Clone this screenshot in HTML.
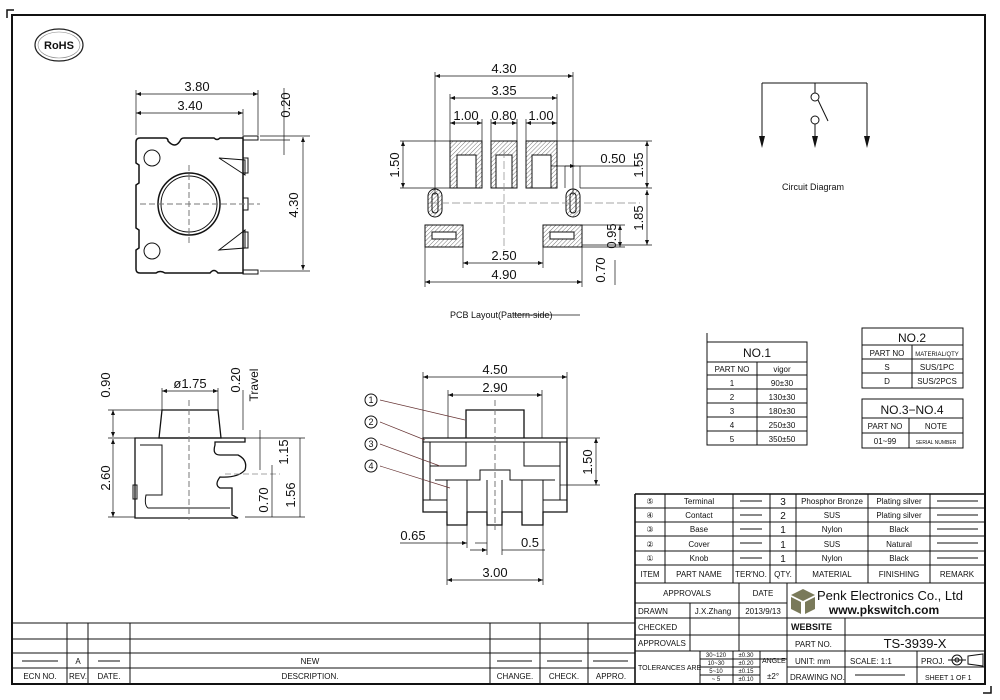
<!DOCTYPE html>
<html><head><meta charset="utf-8"><style>
html,body{margin:0;padding:0;background:#fff;}
svg{display:block;}
text{font-family:"Liberation Sans",sans-serif;fill:#111;}
</style></head><body>
<svg width="1000" height="700" viewBox="0 0 1000 700" xmlns="http://www.w3.org/2000/svg">
<defs>
<marker id="a" viewBox="0 0 10 10" refX="10" refY="5" markerWidth="7" markerHeight="5" orient="auto-start-reverse" markerUnits="userSpaceOnUse"><path d="M0,1 L10,5 L0,9 z" fill="#111"/></marker>
<pattern id="h" width="3" height="3" patternUnits="userSpaceOnUse" patternTransform="rotate(45)"><line x1="0" y1="0" x2="0" y2="3" stroke="#777" stroke-width="1"/></pattern>
</defs>
<rect width="1000" height="700" fill="#fff"/>
<!-- frame -->
<rect x="12" y="15" width="973" height="669" fill="none" stroke="#111" stroke-width="2"/>
<path d="M7,18 V10 H14" fill="none" stroke="#111" stroke-width="1.5"/>
<path d="M983,693 H991 V686" fill="none" stroke="#111" stroke-width="1.5"/>
<!-- RoHS -->
<ellipse cx="59" cy="45" rx="24" ry="16" fill="none" stroke="#222" stroke-width="1.2"/>
<ellipse cx="59" cy="45" rx="21" ry="13" fill="none" stroke="#888" stroke-width="0.6"/>
<text x="59" y="49" font-size="11" font-weight="bold" text-anchor="middle">RoHS</text>

<g fill="none" stroke="#111" stroke-width="1">
<!-- View 1 -->
<path d="M140,138 H165 Q168,138 168,141 Q175,149 180,141 Q181,138 184,138 H214 Q217,141 220,138 H243 V273 H218 Q214,268 210,273 H165 Q160,270 156,273 H140 Q136,273 136,269 V250 L139,248 V230 L136,228 V185 L139,183 V165 L136,163 V142 Q136,138 140,138 Z" stroke-width="1.5"/>
<circle cx="189" cy="204" r="31" stroke-width="1.5"/>
<circle cx="189" cy="204" r="28"/>
<circle cx="152" cy="158" r="8"/><circle cx="152" cy="251" r="8"/>
<path d="M219,158 L245,160 V175 Z M219,250 L245,230 V248 Z"/>
<rect x="243" y="158" width="5" height="15"/><rect x="243" y="198" width="5" height="12"/><rect x="243" y="232" width="5" height="16"/>
<rect x="243" y="136" width="15" height="4"/><rect x="243" y="270" width="15" height="4"/>
<line x1="189" y1="165" x2="189" y2="245" stroke-dasharray="6,3" stroke="#777"/>
<line x1="140" y1="204" x2="260" y2="204" stroke-dasharray="6,3" stroke="#777"/>
<line x1="136" y1="90" x2="136" y2="135" stroke-width="0.7"/><line x1="258" y1="90" x2="258" y2="135" stroke-width="0.7"/><line x1="243" y1="109" x2="243" y2="135" stroke-width="0.7"/>
<line x1="136" y1="94" x2="258" y2="94" marker-start="url(#a)" marker-end="url(#a)" stroke-width="0.7"/>
<line x1="136" y1="113" x2="243" y2="113" marker-start="url(#a)" marker-end="url(#a)" stroke-width="0.7"/>
<line x1="260" y1="136" x2="310" y2="136" stroke-width="0.7"/><line x1="260" y1="140" x2="290" y2="140" stroke-width="0.7"/><line x1="260" y1="271" x2="310" y2="271" stroke-width="0.7"/>
<line x1="284" y1="88" x2="284" y2="155" stroke-width="0.7"/>
<line x1="303" y1="137" x2="303" y2="270" marker-start="url(#a)" marker-end="url(#a)" stroke-width="0.7"/>

<!-- View 2 PCB -->
<rect x="450" y="141" width="32" height="47" fill="url(#h)"/><rect x="457" y="155" width="19" height="33" fill="#fff"/>
<rect x="491" y="141" width="26" height="47" fill="url(#h)"/><rect x="496" y="155" width="16" height="33" fill="#fff"/>
<rect x="526" y="141" width="31" height="47" fill="url(#h)"/><rect x="532" y="155" width="19" height="33" fill="#fff"/>
<rect x="428" y="189" width="14" height="28" rx="7" fill="url(#h)"/><rect x="432" y="193" width="6" height="20" rx="3"/>
<rect x="566" y="189" width="14" height="28" rx="7" fill="url(#h)"/><rect x="570" y="193" width="6" height="20" rx="3"/>
<rect x="425" y="225" width="38" height="22" fill="url(#h)"/><rect x="432" y="232" width="24" height="7" fill="#fff"/>
<rect x="543" y="225" width="39" height="22" fill="url(#h)"/><rect x="550" y="232" width="24" height="7" fill="#fff"/>
<line x1="430" y1="203" x2="640" y2="203" stroke-dasharray="8,3" stroke="#888" stroke-width="0.7"/>
<line x1="504" y1="150" x2="504" y2="250" stroke-dasharray="8,3" stroke="#888" stroke-width="0.7"/>
<g stroke-width="0.7">
<line x1="435" y1="72" x2="435" y2="195"/><line x1="573" y1="72" x2="573" y2="195"/>
<line x1="435" y1="76" x2="573" y2="76" marker-start="url(#a)" marker-end="url(#a)"/>
<line x1="450" y1="94" x2="450" y2="141"/><line x1="557" y1="94" x2="557" y2="141"/>
<line x1="450" y1="98" x2="557" y2="98" marker-start="url(#a)" marker-end="url(#a)"/>
<line x1="482" y1="119" x2="482" y2="141"/><line x1="491" y1="119" x2="491" y2="141"/><line x1="517" y1="119" x2="517" y2="141"/><line x1="526" y1="119" x2="526" y2="141"/>
<line x1="450" y1="123" x2="482" y2="123" marker-start="url(#a)" marker-end="url(#a)"/>
<line x1="491" y1="123" x2="517" y2="123" marker-start="url(#a)" marker-end="url(#a)"/>
<line x1="526" y1="123" x2="557" y2="123" marker-start="url(#a)" marker-end="url(#a)"/>
<line x1="400" y1="141" x2="450" y2="141"/><line x1="400" y1="188" x2="450" y2="188"/>
<line x1="403" y1="141" x2="403" y2="188" marker-start="url(#a)" marker-end="url(#a)"/>
<line x1="557" y1="141" x2="652" y2="141"/><line x1="580" y1="188" x2="652" y2="188"/><line x1="582" y1="245" x2="652" y2="245"/>
<line x1="647" y1="141" x2="647" y2="188" marker-start="url(#a)" marker-end="url(#a)"/>
<line x1="647" y1="190" x2="647" y2="245" marker-start="url(#a)" marker-end="url(#a)"/>
<line x1="582" y1="225" x2="625" y2="225"/><line x1="582" y1="247" x2="625" y2="247"/>
<line x1="620" y1="225" x2="620" y2="247" marker-start="url(#a)" marker-end="url(#a)"/>
<line x1="615" y1="260" x2="615" y2="285"/>
<line x1="551" y1="166" x2="640" y2="166"/><line x1="565" y1="166" x2="575" y2="166" marker-end="url(#a)"/>
<line x1="565" y1="166" x2="565" y2="188"/><line x1="580" y1="166" x2="580" y2="188"/>
<line x1="463" y1="247" x2="463" y2="268"/><line x1="543" y1="247" x2="543" y2="268"/>
<line x1="463" y1="263" x2="543" y2="263" marker-start="url(#a)" marker-end="url(#a)"/>
<line x1="425" y1="247" x2="425" y2="287"/><line x1="582" y1="247" x2="582" y2="287"/>
<line x1="425" y1="282" x2="582" y2="282" marker-start="url(#a)" marker-end="url(#a)"/>
</g>

<!-- Circuit -->
<path d="M762,83 H867 M762,83 V140 M867,83 V140 M815,83 V93 M815,124 V140 M818,100 L828,121"/>
<circle cx="815" cy="97" r="4"/><circle cx="815" cy="120" r="4"/>
</g>
<path d="M759,136 L765,136 L762,148 Z M812,136 L818,136 L815,148 Z M864,136 L870,136 L867,148 Z" fill="#111"/>

<g fill="none" stroke="#111" stroke-width="1">
<!-- View 3 side -->
<path d="M162,410 H218 L221,438 H159 Z" stroke-width="1.3"/>
<path d="M135,438 H245 V442 H215 V445 Q212,455 220,455 H238 Q248,460 245,470 Q238,478 220,477 Q214,485 220,488 H232 V515 L238,518 H135 Z" stroke-width="1.3"/>
<path d="M140,445 H162 V495 H146 Q144,505 148,508 H230"/>
<rect x="133" y="485" width="4" height="14"/>
<line x1="189" y1="400" x2="189" y2="520" stroke-dasharray="6,3" stroke="#777"/>
<line x1="225" y1="474" x2="280" y2="474" stroke-dasharray="6,3" stroke="#888" stroke-width="0.7"/>
<g stroke-width="0.7">
<line x1="162" y1="388" x2="162" y2="410"/><line x1="218" y1="388" x2="218" y2="410"/>
<line x1="162" y1="391" x2="218" y2="391" marker-start="url(#a)" marker-end="url(#a)"/>
<line x1="108" y1="410" x2="162" y2="410"/><line x1="108" y1="438" x2="135" y2="438"/><line x1="108" y1="517" x2="135" y2="517"/>
<line x1="113" y1="410" x2="113" y2="437" marker-start="url(#a)" marker-end="url(#a)"/>
<line x1="113" y1="439" x2="113" y2="517" marker-start="url(#a)" marker-end="url(#a)"/>
<line x1="243" y1="390" x2="243" y2="430"/>
<line x1="245" y1="438" x2="305" y2="438"/><line x1="245" y1="517" x2="305" y2="517"/>
<line x1="300" y1="438" x2="300" y2="517"/>
<line x1="272" y1="465" x2="272" y2="517"/><line x1="260" y1="430" x2="260" y2="470"/>
</g>

<!-- View 4 front -->
<path d="M466,438 V410 H524 V438" stroke-width="1.3"/>
<path d="M423,438 H567 V512 H543 V525 H522 V512 H502 V525 H487 V512 H467 V525 H447 V512 H423 Z" stroke-width="1.3"/>
<path d="M423,442 H567 M430,442 V500 M560,442 V500 M430,466 H466 V442 M524,442 V466 H560 M435,480 H480 V470 H510 V480 H555 M447,480 V512 M467,480 V512 M487,480 V512 M502,480 V512 M522,480 V512 M543,480 V512 M423,500 H447 M543,500 H567"/>
<line x1="495" y1="400" x2="495" y2="530" stroke-dasharray="6,3" stroke="#777"/>
<g stroke-width="0.7">
<line x1="423" y1="372" x2="423" y2="438"/><line x1="567" y1="372" x2="567" y2="438"/>
<line x1="423" y1="377" x2="567" y2="377" marker-start="url(#a)" marker-end="url(#a)"/>
<line x1="448" y1="390" x2="448" y2="438"/><line x1="542" y1="390" x2="542" y2="438"/>
<line x1="448" y1="395" x2="542" y2="395" marker-start="url(#a)" marker-end="url(#a)"/>
<line x1="567" y1="438" x2="600" y2="438"/><line x1="560" y1="485" x2="600" y2="485"/>
<line x1="596" y1="438" x2="596" y2="485" marker-start="url(#a)" marker-end="url(#a)"/>
<line x1="447" y1="525" x2="447" y2="585"/><line x1="543" y1="525" x2="543" y2="585"/>
<line x1="447" y1="580" x2="543" y2="580" marker-start="url(#a)" marker-end="url(#a)"/>
<line x1="467" y1="525" x2="467" y2="548"/><line x1="487" y1="525" x2="487" y2="555"/><line x1="502" y1="525" x2="502" y2="555"/>
<line x1="400" y1="543" x2="467" y2="543" marker-end="url(#a)"/><line x1="487" y1="543" x2="475" y2="543"/>
<line x1="470" y1="550" x2="487" y2="550" marker-end="url(#a)"/><line x1="502" y1="550" x2="545" y2="550"/>
<line x1="380" y1="400" x2="465" y2="420" stroke="#633"/>
<line x1="380" y1="422" x2="425" y2="440" stroke="#633"/>
<line x1="380" y1="444" x2="440" y2="466" stroke="#633"/>
<line x1="380" y1="466" x2="450" y2="488" stroke="#633"/>
</g>
<circle cx="371" cy="400" r="6"/><circle cx="371" cy="422" r="6"/><circle cx="371" cy="444" r="6"/><circle cx="371" cy="466" r="6"/>
</g>

<g font-size="13">
<text x="197" y="91" text-anchor="middle">3.80</text>
<text x="190" y="110" text-anchor="middle">3.40</text>
<text transform="translate(290,105) rotate(-90)" text-anchor="middle">0.20</text>
<text transform="translate(298,205) rotate(-90)" text-anchor="middle">4.30</text>
<text x="504" y="73" text-anchor="middle">4.30</text>
<text x="504" y="95" text-anchor="middle">3.35</text>
<text x="466" y="120" text-anchor="middle">1.00</text>
<text x="504" y="120" text-anchor="middle">0.80</text>
<text x="541" y="120" text-anchor="middle">1.00</text>
<text transform="translate(399,165) rotate(-90)" text-anchor="middle">1.50</text>
<text x="613" y="163" text-anchor="middle">0.50</text>
<text transform="translate(643,165) rotate(-90)" text-anchor="middle">1.55</text>
<text transform="translate(643,218) rotate(-90)" text-anchor="middle">1.85</text>
<text transform="translate(616,236) rotate(-90)" text-anchor="middle">0.95</text>
<text transform="translate(605,270) rotate(-90)" text-anchor="middle">0.70</text>
<text x="504" y="260" text-anchor="middle">2.50</text>
<text x="504" y="279" text-anchor="middle">4.90</text>
<text x="190" y="388" text-anchor="middle">ø1.75</text>
<text transform="translate(110,385) rotate(-90)" text-anchor="middle">0.90</text>
<text transform="translate(110,478) rotate(-90)" text-anchor="middle">2.60</text>
<text transform="translate(240,380) rotate(-90)" text-anchor="middle">0.20</text>
<text transform="translate(258,385) rotate(-90)" text-anchor="middle" font-size="12">Travel</text>
<text transform="translate(288,452) rotate(-90)" text-anchor="middle">1.15</text>
<text transform="translate(268,500) rotate(-90)" text-anchor="middle">0.70</text>
<text transform="translate(295,495) rotate(-90)" text-anchor="middle">1.56</text>
<text x="495" y="374" text-anchor="middle">4.50</text>
<text x="495" y="392" text-anchor="middle">2.90</text>
<text transform="translate(592,462) rotate(-90)" text-anchor="middle">1.50</text>
<text x="413" y="540" text-anchor="middle">0.65</text>
<text x="530" y="547" text-anchor="middle">0.5</text>
<text x="495" y="577" text-anchor="middle">3.00</text>
</g>
<g font-size="9" text-anchor="middle">
<text x="371" y="403">1</text><text x="371" y="425">2</text><text x="371" y="447">3</text><text x="371" y="469">4</text>
</g>
<text x="450" y="318" font-size="9">PCB Layout(Pattern-side)</text>
<line x1="513" y1="315" x2="580" y2="315" stroke="#111" stroke-width="0.7"/>
<text x="813" y="190" font-size="9" text-anchor="middle">Circuit Diagram</text>

<!-- small tables -->
<g fill="none" stroke="#111" stroke-width="1">
<rect x="707" y="342" width="100" height="103"/>
<line x1="707" y1="333" x2="707" y2="342"/>
<path d="M707,362 H807 M707,375 H807 M707,389 H807 M707,403 H807 M707,417 H807 M707,431 H807 M757,362 V445"/>
<rect x="862" y="328" width="101" height="60"/>
<path d="M862,345 H963 M862,359 H963 M862,373 H963 M912,345 V388"/>
<rect x="862" y="399" width="101" height="49"/>
<path d="M862,418 H963 M862,433 H963 M909,418 V448"/>
</g>
<g font-size="8" text-anchor="middle">
<text x="757" y="357" font-size="12">NO.1</text>
<text x="732" y="372">PART NO</text><text x="782" y="372">vigor</text>
<text x="732" y="386">1</text><text x="782" y="386">90±30</text>
<text x="732" y="400">2</text><text x="782" y="400">130±30</text>
<text x="732" y="414">3</text><text x="782" y="414">180±30</text>
<text x="732" y="428">4</text><text x="782" y="428">250±30</text>
<text x="732" y="442">5</text><text x="782" y="442">350±50</text>
<text x="912" y="342" font-size="12">NO.2</text>
<text x="887" y="356">PART NO</text><text x="937" y="356" font-size="6">MATERIAL/QTY</text>
<text x="887" y="370">S</text><text x="937" y="370">SUS/1PC</text>
<text x="887" y="384">D</text><text x="937" y="384">SUS/2PCS</text>
<text x="912" y="414" font-size="12">NO.3−NO.4</text>
<text x="885" y="429">PART NO</text><text x="936" y="429">NOTE</text>
<text x="885" y="444">01~99</text><text x="936" y="444" font-size="5">SERIAL NUMBER</text>
</g>

<!-- bottom left revision table -->
<g fill="none" stroke="#111" stroke-width="1">
<path d="M12,623 H635 M12,639 H635 M12,653 H635 M12,668 H635" />
<path d="M67,623 V684 M88,623 V684 M130,623 V684 M490,623 V684 M540,623 V684 M588,623 V684"/>
<path d="M22,661 H58 M98,661 H120 M497,661 H532 M547,661 H582 M593,661 H628"/>
</g>
<g font-size="8" text-anchor="middle">
<text x="78" y="664">A</text><text x="310" y="664">NEW</text>
<text x="40" y="679">ECN NO.</text><text x="78" y="679">REV.</text><text x="109" y="679">DATE.</text>
<text x="310" y="679">DESCRIPTION.</text><text x="515" y="679">CHANGE.</text><text x="564" y="679">CHECK.</text><text x="611" y="679">APPRO.</text>
</g>

<!-- title block -->
<g fill="none" stroke="#111" stroke-width="1">
<path d="M635,494 H985 M635,494 V684" stroke-width="1.6"/>
<path d="M635,508 H985 M635,522 H985 M635,536 H985 M635,551 H985 M635,565 H985 M635,583 H985" />
<path d="M665,494 V583 M733,494 V583 M770,494 V583 M796,494 V583 M868,494 V583 M930,494 V583"/>
<path d="M635,603 H787 M635,618 H985 M635,635 H985 M635,651 H985 M787,667 H985 M700,659 H787 M700,667 H760 M700,675 H760"/>
<path d="M739,583 V651 M787,583 V684 M690,603 V651 M845,618 V684 M917,651 V684 M700,651 V684 M733,651 V684 M760,651 V684"/>
<path d="M740,501 H762 M740,515 H762 M740,529 H762 M740,543 H762 M740,558 H762 M937,501 H978 M937,515 H978 M937,529 H978 M937,543 H978 M937,558 H978 M855,675 H905"/>
<circle cx="957" cy="660" r="5"/><circle cx="957" cy="660" r="2"/><path d="M948,660 H966 M968,656 L983,654 V666 L968,664 Z"/>
</g>
<g font-size="8" text-anchor="middle">
<text x="650" y="504">⑤</text><text x="699" y="504">Terminal</text><text x="783" y="505" font-size="10">3</text><text x="832" y="504">Phosphor Bronze</text><text x="899" y="504">Plating silver</text>
<text x="650" y="518">④</text><text x="699" y="518">Contact</text><text x="783" y="519" font-size="10">2</text><text x="832" y="518">SUS</text><text x="899" y="518">Plating silver</text>
<text x="650" y="532">③</text><text x="699" y="532">Base</text><text x="783" y="533" font-size="10">1</text><text x="832" y="532">Nylon</text><text x="899" y="532">Black</text>
<text x="650" y="547">②</text><text x="699" y="547">Cover</text><text x="783" y="548" font-size="10">1</text><text x="832" y="547">SUS</text><text x="899" y="547">Natural</text>
<text x="650" y="561">①</text><text x="699" y="561">Knob</text><text x="783" y="562" font-size="10">1</text><text x="832" y="561">Nylon</text><text x="899" y="561">Black</text>
<text x="650" y="577">ITEM</text><text x="699" y="577">PART NAME</text><text x="751" y="577">TER'NO.</text><text x="783" y="577">QTY.</text><text x="832" y="577">MATERIAL</text><text x="899" y="577">FINISHING</text><text x="957" y="577">REMARK</text>
<text x="687" y="596">APPROVALS</text><text x="763" y="596">DATE</text>
<text x="713" y="614">J.X.Zhang</text><text x="763" y="614">2013/9/13</text>
<text x="763" y="647" font-size="1"> </text>
</g>
<g font-size="8">
<text x="638" y="614">DRAWN</text><text x="638" y="630">CHECKED</text><text x="638" y="646">APPROVALS</text>
<text x="638" y="670" font-size="7">TOLERANCES ARE</text>
<text x="791" y="630" font-weight="bold" font-size="9">WEBSITE</text>
<text x="795" y="647">PART NO.</text>
<text x="795" y="664">UNIT:  mm</text><text x="850" y="664">SCALE:   1:1</text><text x="921" y="664">PROJ.</text>
<text x="790" y="680">DRAWING NO.</text><text x="925" y="680" font-size="7">SHEET   1  OF  1</text>
<text x="762" y="663" font-size="7">ANGLE</text><text x="767" y="679">±2°</text>
</g>
<g font-size="6" text-anchor="middle">
<text x="716" y="657">30~120</text><text x="746" y="657">±0.30</text>
<text x="716" y="665">10~30</text><text x="746" y="665">±0.20</text>
<text x="716" y="673">5~10</text><text x="746" y="673">±0.15</text>
<text x="716" y="681">~ 5</text><text x="746" y="681">±0.10</text>
</g>
<text x="915" y="648" font-size="13" text-anchor="middle" font-family="Liberation Serif">TS-3939-X</text>
<g fill="#7a7a5a"><path d="M803,589 L815,595 L803,601 L791,595 Z"/><path d="M791,597 L801,602 V614 L791,609 Z"/><path d="M815,597 L805,602 V614 L815,609 Z"/></g>
<text x="890" y="600" font-size="13" text-anchor="middle" fill="#333">Penk Electronics Co., Ltd</text>
<text x="884" y="614" font-size="12" font-weight="bold" text-anchor="middle" fill="#333">www.pkswitch.com</text>
</svg>
</body></html>
